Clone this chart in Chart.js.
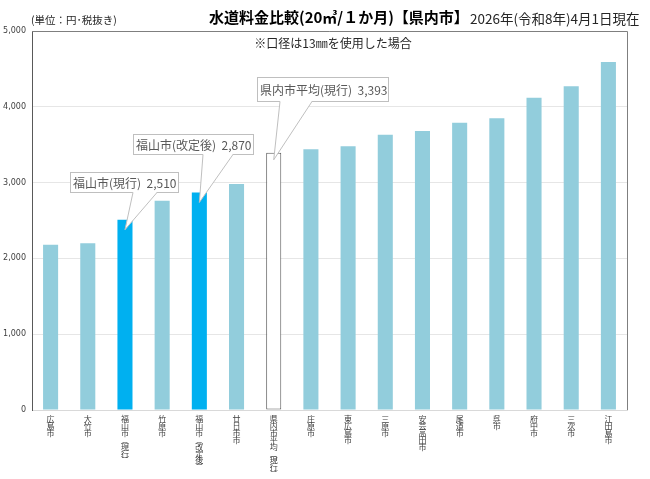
<!DOCTYPE html>
<html lang="ja">
<head>
<meta charset="utf-8">
<script src="https://cdn.jsdelivr.net/npm/chart.js@4"></script>
<style>
  html, body { margin: 0; padding: 0; background: #fff; }
  #wrap { width: 650px; height: 479px; }
</style>
</head>
<body>
<div id="wrap"><canvas id="chart" width="650" height="479"></canvas></div>
<script>
// chart data
const cities = ['広島市', '大竹市', '福山市(現行)', '竹原市', '福山市(改定後)', '廿日市市', '県内市平均(現行)',
    '庄原市', '東広島市', '三原市', '安芸高田市', '尾道市', '呉市', '府中市', '三次市', '江田島市'];
const fees = [2180, 2200, 2510, 2760, 2870, 2980, 3393, 3440, 3480, 3630, 3680, 3790, 3850, 4120, 4270, 4590];
const yTicks = [0, 1000, 2000, 3000, 4000, 5000];
const highlighted = ['福山市(現行)', '福山市(改定後)'];
const averageName = '県内市平均(現行)';

const FONT = '"Noto Sans CJK JP", "Noto Sans", sans-serif';

// callout boxes (label + where the box sits)
const callouts = [
    {name: '福山市(現行)', box: {x: 70, y: 172, w: 108, h: 20}, base: [133, 157], tipDrop: 10},
    {name: '福山市(改定後)', box: {x: 133, y: 134, w: 120, h: 20}, base: [203, 233], tipDrop: 10},
    {name: '県内市平均(現行)', box: {x: 257, y: 77, w: 131, h: 24}, base: [280, 312], tipDrop: 7},
];

function barColor(name) {
    if (name === averageName) return '#ffffff';
    return highlighted.includes(name) ? '#00b0f0' : '#92cddc';
}

const decorPlugin = {
    id: 'decor',
    afterDatasetsDraw(chart) {
        const {ctx, chartArea: a, scales} = chart;
        ctx.save();
        // plot frame: top and right
        ctx.strokeStyle = '#7f7f7f';
        ctx.lineWidth = 1;
        ctx.beginPath();
        ctx.moveTo(a.left, a.top + 0.5);
        ctx.lineTo(a.right + 0.5, a.top + 0.5);
        ctx.lineTo(a.right + 0.5, a.bottom);
        ctx.stroke();

        // category labels, one character per line (vertical writing)
        ctx.fillStyle = '#404040';
        ctx.font = '8px ' + FONT;
        ctx.textAlign = 'center';
        ctx.textBaseline = 'top';
        cities.forEach((name, i) => {
            const x = scales.x.getPixelForValue(i);
            const chars = name.replace('(', '︵').replace(')', '︶').split('');
            chars.forEach((ch, k) => ctx.fillText(ch, x, a.bottom + 5 + k * 6.9));
        });

        // callouts
        callouts.forEach(c => {
            const i = cities.indexOf(c.name);
            const tipX = scales.x.getPixelForValue(i);
            const tipY = scales.y.getPixelForValue(fees[i]) + c.tipDrop;
            const b = c.box;
            const bottom = b.y + b.h;
            ctx.fillStyle = '#fff';
            ctx.strokeStyle = '#bfbfbf';
            ctx.fillRect(b.x, b.y, b.w, b.h);
            ctx.strokeRect(b.x + 0.5, b.y + 0.5, b.w, b.h);
            ctx.beginPath();
            ctx.moveTo(c.base[0], bottom);
            ctx.lineTo(tipX, tipY);
            ctx.lineTo(c.base[1], bottom);
            ctx.closePath();
            ctx.fill();
            ctx.beginPath();
            ctx.moveTo(c.base[0], bottom + 0.5);
            ctx.lineTo(tipX, tipY);
            ctx.lineTo(c.base[1], bottom + 0.5);
            ctx.stroke();
            ctx.fillStyle = '#595959';
            ctx.font = '12px ' + FONT;
            ctx.textBaseline = 'middle';
            ctx.textAlign = 'left';
            ctx.fillText(c.name + '  ' + fees[i].toLocaleString('en-US'), b.x + 3, b.y + b.h / 2 + 1);
        });
        ctx.restore();
    },
    afterDraw(chart) {
        const {ctx} = chart;
        ctx.save();
        ctx.fillStyle = '#000';
        ctx.textBaseline = 'alphabetic';
        ctx.textAlign = 'left';
        ctx.font = 'bold 15px ' + FONT;
        ctx.fillText('水道料金比較(20㎥/１か月)【県内市】', 209, 23);
        ctx.fillStyle = '#262626';
        ctx.font = '13.5px ' + FONT;
        ctx.fillText('2026年(令和8年)4月1日現在', 470, 24);
        ctx.font = '10.5px ' + FONT;
        ctx.fillText('(単位：円･税抜き)', 31, 24);
        ctx.font = '12px ' + FONT;
        ctx.textAlign = 'center';
        ctx.fillText('※口径は13㎜を使用した場合', 333, 48);
        ctx.restore();
    }
};

new Chart(document.getElementById('chart'), {
    type: 'bar',
    data: {
        labels: cities,
        datasets: [{
            data: fees,
            backgroundColor: cities.map(barColor),
            borderColor: cities.map(n => n === averageName ? '#595959' : 'rgba(0,0,0,0)'),
            borderWidth: cities.map(n => n === averageName ? 1 : 0),
            borderSkipped: false,
            barPercentage: 0.405,
            categoryPercentage: 1.0,
        }]
    },
    options: {
        responsive: false,
        animation: false,
        layout: {padding: {top: 31, right: 23, left: 0, bottom: 0}},
        plugins: {legend: {display: false}, tooltip: {enabled: false}},
        scales: {
            x: {
                grid: {display: false},
                border: {color: '#d9d9d9'},
                afterFit(scale) { scale.height = 69; },
                ticks: {display: false}
            },
            y: {
                min: 0,
                max: 5000,
                afterFit(scale) { scale.width = 32; },
                afterBuildTicks(scale) { scale.ticks = yTicks.map(v => ({value: v})); },
                grid: {color: '#e6e6e6', drawTicks: false},
                border: {color: '#595959'},
                ticks: {
                    padding: 6,
                    color: '#404040',
                    font: {family: 'Verdana, "DejaVu Sans", sans-serif', size: 8},
                    callback: v => v.toLocaleString('en-US')
                }
            }
        }
    },
    plugins: [decorPlugin]
});
</script>
</body>
</html>
